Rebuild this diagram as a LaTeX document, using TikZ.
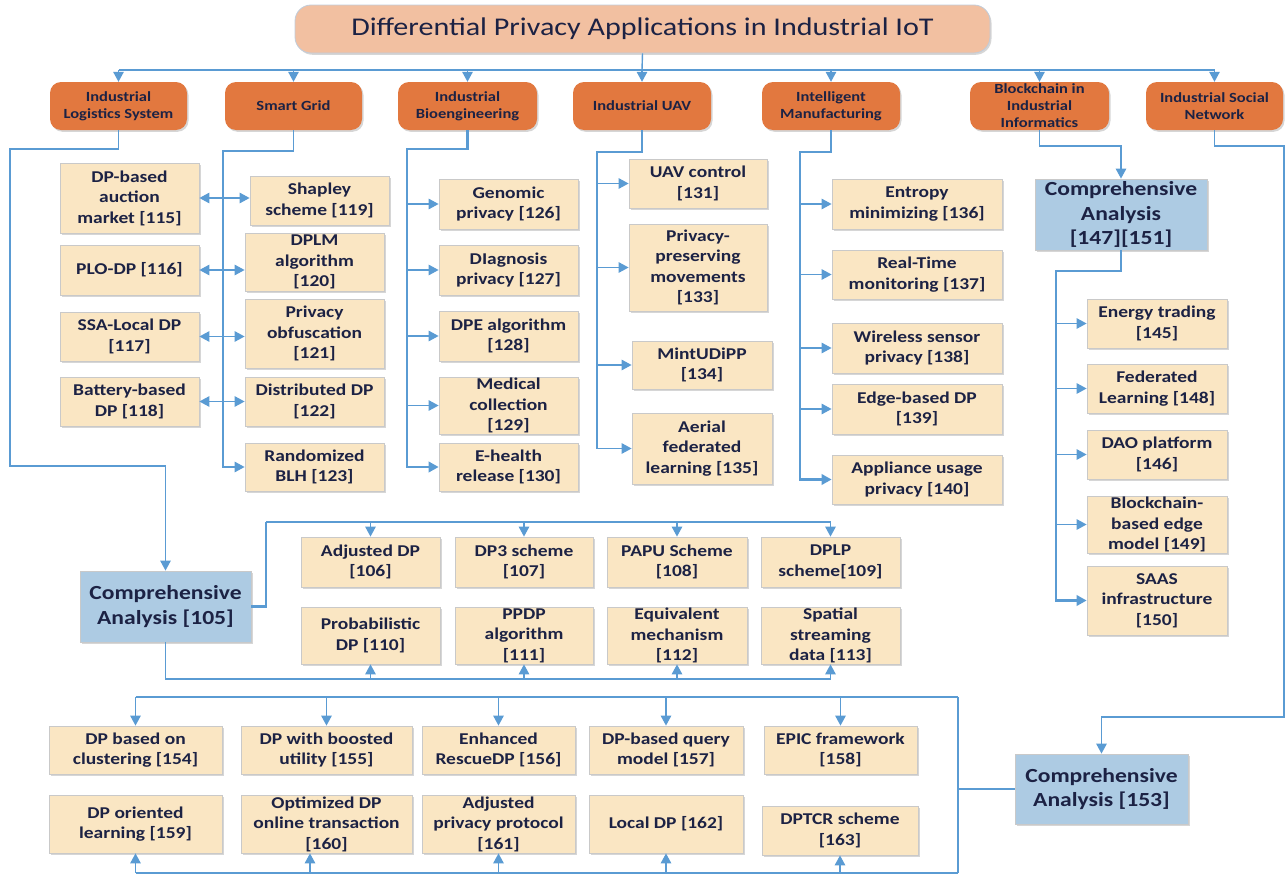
\documentclass[tikz,border=0pt]{standalone}
\usepackage{fontspec}
\setmainfont{Carlito}[FakeStretch=1.18]
\usetikzlibrary{arrows.meta,shadows}
\definecolor{lnc}{HTML}{5A9BD3}
\definecolor{leafc}{HTML}{FAE6C3}
\definecolor{bordc}{HTML}{C9C9C9}
\definecolor{catc}{HTML}{E2783F}
\definecolor{cac}{HTML}{ADCBE3}
\definecolor{titlec}{HTML}{F2C0A1}
\definecolor{titleb}{HTML}{C0CCDA}
\definecolor{txtc}{HTML}{1C2244}
% box given by its left, right, top and bottom edges
\newcommand\boxat[7]{\node[#1, minimum width={(#4-#3)*1pt}, minimum height={(#6-#5)*1pt}] (#2) at ({(#3+#4)/2},{(#5+#6)/2}) {#7};}
\begin{document}
\begin{tikzpicture}[x=1pt,y=-1pt,
  ln/.style={draw=lnc, line width=1.4pt},
  trunk/.style={line width=2.3pt},
  tip/.tip={Triangle[width=10.5pt,length=10pt]},
  arr/.style={ln, -tip},
  arrb/.style={ln, tip-tip},
  shade/.style={drop shadow={shadow xshift=1.5pt, shadow yshift=-1.8pt, fill=black, opacity=0.16}},
  leaf/.style={shade, draw=bordc, line width=0.8pt, fill=leafc, text=txtc, align=center, inner sep=0pt,
    font=\bfseries\fontsize{16.5}{20.5}\selectfont},
  cat/.style={shade, fill=catc, rounded corners=11pt, text=txtc, align=center, inner sep=0pt,
    font=\bfseries\fontsize{14}{17}\selectfont},
  ana/.style={shade, draw=bordc, line width=0.8pt, fill=cac, text=txtc, align=center, inner sep=0pt,
    font=\bfseries\fontsize{20}{24.5}\selectfont}]
\useasboundingbox (0,0) rectangle (1286,878);

% title and application areas
\node[shade, draw=titleb, line width=0.8pt, fill=titlec, rounded corners=16pt, text=txtc,
  minimum width=695pt, minimum height=48pt, font=\fontsize{25.5}{30}\selectfont] (T) at (642.5,29)
  {Differential Privacy Applications in Industrial IoT};
\boxat{cat}{c1}{50}{187}{82}{130}{Industrial\\Logistics System}
\boxat{cat}{c2}{225}{362}{82}{130}{Smart Grid}
\boxat{cat}{c3}{398}{537}{82}{130}{Industrial\\Bioengineering}
\boxat{cat}{c4}{573}{711}{82}{130}{Industrial UAV}
\boxat{cat}{c5}{762}{900}{82}{130}{Intelligent\\Manufacturing}
\boxat{cat}{c6}{970}{1109}{82}{130}{Blockchain in\\Industrial\\Informatics}
\boxat{cat}{c7}{1146}{1283}{82}{130}{Industrial Social\\Network}

% industrial logistics
\boxat{leaf}{a115}{60}{199}{163}{233}{DP-based\\auction\\market [115]}
\boxat{leaf}{a116}{60}{199}{245}{295}{PLO-DP [116]}
\boxat{leaf}{a117}{60}{199}{312}{361}{SSA-Local DP\\{}[117]}
\boxat{leaf}{a118}{60}{199}{377}{426}{Battery-based\\DP [118]}
% smart grid
\boxat{leaf}{a119}{250}{389}{176}{225}{Shapley\\scheme [119]}
\boxat{leaf}{a120}{245}{384}{233}{291}{DPLM\\algorithm\\{}[120]}
\boxat{leaf}{a121}{245}{384}{299}{368}{Privacy\\obfuscation\\{}[121]}
\boxat{leaf}{a122}{245}{384}{377}{426}{Distributed DP\\{}[122]}
\boxat{leaf}{a123}{245}{384}{443}{491}{Randomized\\BLH [123]}
% bioengineering
\boxat{leaf}{a126}{439}{578}{179}{229}{Genomic\\privacy [126]}
\boxat{leaf}{a127}{439}{578}{245}{295}{DIagnosis\\privacy [127]}
\boxat{leaf}{a128}{439}{578}{311}{361}{DPE algorithm\\{}[128]}
\boxat{leaf}{a129}{439}{578}{377}{434}{Medical\\collection\\{}[129]}
\boxat{leaf}{a130}{439}{578}{443}{491}{E-health\\release [130]}
% UAV
\boxat{leaf}{a131}{629}{767}{159}{208}{UAV control\\{}[131]}
\boxat{leaf}{a133}{629}{767}{224}{311}{Privacy-\\preserving\\movements\\{}[133]}
\boxat{leaf}{a134}{632}{772}{341}{389}{MintUDiPP\\{}[134]}
\boxat{leaf}{a135}{632}{772}{413}{484}{Aerial\\federated\\learning [135]}
% manufacturing
\boxat{leaf}{a136}{832}{1002}{179}{229}{Entropy\\minimizing [136]}
\boxat{leaf}{a137}{832}{1002}{250}{299}{Real-Time\\monitoring [137]}
\boxat{leaf}{a138}{832}{1002}{323}{373}{Wireless sensor\\privacy [138]}
\boxat{leaf}{a139}{832}{1002}{384}{434}{Edge-based DP\\{}[139]}
\boxat{leaf}{a140}{832}{1002}{455}{504}{Appliance usage\\privacy [140]}
% blockchain
\boxat{ana}{ca147}{1035}{1207}{179}{250}{Comprehensive\\Analysis\\{}[147][151]}
\boxat{leaf}{a145}{1087}{1227}{299}{348}{Energy trading\\{}[145]}
\boxat{leaf}{a148}{1087}{1227}{364}{413}{Federated\\Learning [148]}
\boxat{leaf}{a146}{1087}{1227}{430}{479}{DAO platform\\{}[146]}
\boxat{leaf}{a149}{1087}{1227}{496}{553}{Blockchain-\\based edge\\model [149]}
\boxat{leaf}{a150}{1087}{1227}{566}{635}{SAAS\\infrastructure\\{}[150]}

% logistics analysis
\boxat{ana}{ca105}{80}{251}{571}{642}{Comprehensive\\Analysis [105]}
\boxat{leaf}{a106}{301}{440}{537}{587}{Adjusted DP\\{}[106]}
\boxat{leaf}{a107}{455}{593}{537}{587}{DP3 scheme\\{}[107]}
\boxat{leaf}{a108}{607}{747}{537}{587}{PAPU Scheme\\{}[108]}
\boxat{leaf}{a109}{761}{900}{537}{587}{DPLP\\scheme[109]}
\boxat{leaf}{a110}{301}{440}{607}{664}{Probabilistic\\DP [110]}
\boxat{leaf}{a111}{455}{593}{607}{664}{PPDP\\algorithm\\{}[111]}
\boxat{leaf}{a112}{607}{747}{607}{664}{Equivalent\\mechanism\\{}[112]}
\boxat{leaf}{a113}{761}{900}{607}{664}{Spatial\\streaming\\data [113]}

% social network analysis
\boxat{ana}{ca153}{1015}{1188}{754}{824}{Comprehensive\\Analysis [153]}
\boxat{leaf}{a154}{49}{222}{726}{774}{DP based on\\clustering [154]}
\boxat{leaf}{a155}{241}{412}{726}{774}{DP with boosted\\utility [155]}
\boxat{leaf}{a156}{422}{575}{726}{774}{Enhanced\\RescueDP [156]}
\boxat{leaf}{a157}{589}{743}{726}{774}{DP-based query\\model [157]}
\boxat{leaf}{a158}{764}{917}{726}{774}{EPIC framework\\{}[158]}
\boxat{leaf}{a159}{49}{222}{795}{853}{DP oriented\\learning [159]}
\boxat{leaf}{a160}{241}{412}{795}{853}{Optimized DP\\online transaction\\{}[160]}
\boxat{leaf}{a161}{422}{575}{795}{853}{Adjusted\\privacy protocol\\{}[161]}
\boxat{leaf}{a162}{589}{743}{795}{853}{Local DP [162]}
\boxat{leaf}{a163}{762}{918}{806}{855}{DPTCR scheme\\{}[163]}

% ---- connectors ----
\coordinate (bus) at (642,70);
\draw[ln] (T.south) -- (bus);
\draw[ln] (c1.north |- bus) -- (c7.north |- bus);
\foreach \c in {c1,c2,c3,c4,c5,c6,c7} \draw[arr] (\c.north |- bus) -- (\c.north);

% logistics
\coordinate (l1) at (10,149); \coordinate (l2) at (10,466);
\draw[arr] (c1.south) |- (l1) -- (l2) -| (ca105.north);

% smart grid
\coordinate (s1) at (223,151);
\draw[arr] (c2.south) |- (s1) |- (a123.west);
\foreach \l/\r in {a115/a119,a116/a120,a117/a121,a118/a122}
  \draw[arrb] (\l.east) -- (\l.east -| \r.west);

% bioengineering
\coordinate (b1) at (407,149);
\draw[arr,trunk] (c3.south) |- (b1) |- (a130.west);
\foreach \n in {a126,a127,a128,a129} \draw[arr] (b1 |- \n.west) -- (\n.west);

% UAV
\coordinate (u1) at (597,152);
\draw[arr] (c4.south) |- (u1) |- (a135.west);
\foreach \n in {a131,a133,a134} \draw[arr] (u1 |- \n.west) -- (\n.west);

% manufacturing
\coordinate (m1) at (800,152);
\draw[arr,trunk] (c5.south) |- (m1) |- (a140.west);
\foreach \n in {a136,a137,a138,a139} \draw[arr] (m1 |- \n.west) -- (\n.west);

% blockchain
\coordinate (k1) at (1121,146); \coordinate (k2) at (1056,271);
\draw[arr] (c6.south) |- (k1) -- (ca147.north);
\draw[arr,trunk] (ca147.south) |- (k2) |- (a150.west);
\foreach \n in {a145,a148,a146,a149} \draw[arr] (k2 |- \n.west) -- (\n.west);

% social network
\coordinate (n1) at (1284,146); \coordinate (n2) at (1284,717);
\draw[arr] (c7.south) |- (n1) -- (n2) -| (ca153.north);

% analysis [105]
\coordinate (r1) at (266,522); \coordinate (r2) at (165,679);
\draw[ln,trunk] (ca105.east) -| (r1);
\draw[ln] (r1) -- (a109.north |- r1);
\foreach \n in {a106,a107,a108,a109} \draw[arr] (\n.north |- r1) -- (\n.north);
\draw[ln] (ca105.south) |- (a113.south |- r2);
\foreach \n in {a110,a111,a112,a113} \draw[arr] (\n.south |- r2) -- (\n.south);

% analysis [153]
\coordinate (f1) at (958,697); \coordinate (f2) at (958,873); \coordinate (p160) at (310,873);
\draw[ln,trunk] (ca153.west) -- (ca153.west -| f1);
\draw[ln] (a154.north |- f1) -- (f1);
\draw[ln,trunk] (f1) -- (f2);
\draw[ln] (f2) -- (a159.south |- f2);
\foreach \n in {a154,a155,a156,a157,a158} \draw[arr] (\n.north |- f1) -- (\n.north);
\draw[arr] (p160) -- (p160 |- a160.south);
\foreach \n in {a159,a161,a162,a163} \draw[arr] (\n.south |- f2) -- (\n.south);
\end{tikzpicture}
\end{document}
